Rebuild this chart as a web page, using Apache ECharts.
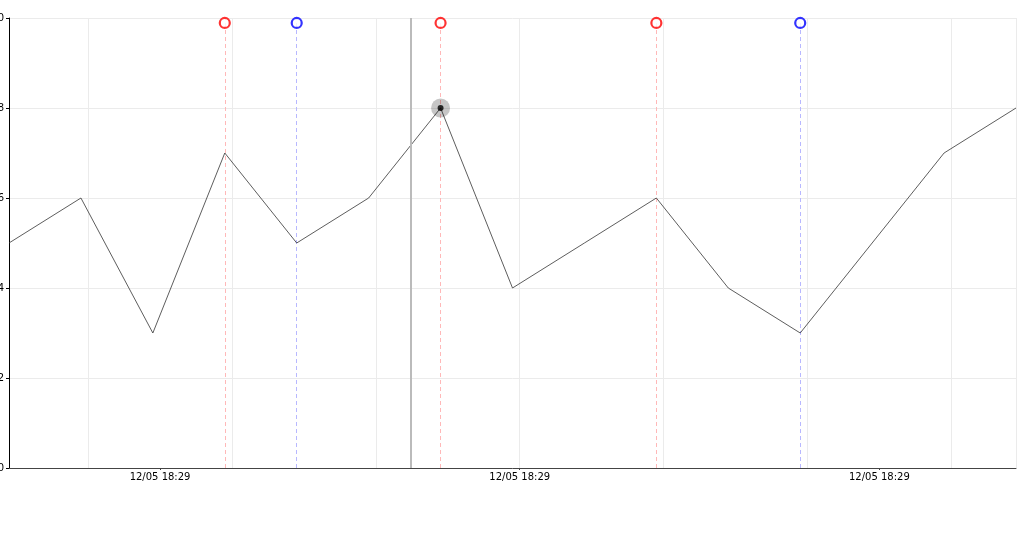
<!DOCTYPE html>
<html>
<head>
<meta charset="utf-8">
<script src="https://cdn.jsdelivr.net/npm/echarts@6/dist/echarts.min.js"></script>
<style>
html,body{margin:0;padding:0;background:#fff;}
#chart{width:1031px;height:546px;}
</style>
</head>
<body>
<div id="chart"></div>
<script>
// Data
var pointIndex = [0,1,2,3,4,5,6,7,8,9,10,11,12,13,14];
var values = [5,6,3,7,5,6,8,4,5,6,4,3,5,7,8];
var xTickLabels = ['12/05 18:29','12/05 18:29','12/05 18:29'];
var yTicks = [0,2,4,6,8,10];
var redMarkers = [3,6,9];
var blueMarkers = [4,11];
var markerLevel = 9.89;
var highlightIndex = 6;
var cursorX = 5.58;

var lineData = pointIndex.map(function(x,i){return [x, values[i]];});
var redData = redMarkers.map(function(x){return [x, markerLevel];});
var blueData = blueMarkers.map(function(x){return [x, markerLevel];});
var hl = [[pointIndex[highlightIndex], values[highlightIndex]]];

var chart = echarts.init(document.getElementById('chart'), null, {renderer:'canvas'});
var font = 'DejaVu Sans';
chart.setOption({
  animation:false,
  backgroundColor:'#fff',
  grid:{left:9,right:15,top:18,bottom:78,containLabel:false,outerBoundsMode:'none'},
  xAxis:[
    {type:'value',min:0,max:14,
     axisLine:{show:true,lineStyle:{color:'#444',width:1}},
     axisTick:{show:false},axisLabel:{show:false},splitLine:{show:false}},
    {type:'value',min:-2.1,max:11.9,splitNumber:3,position:'bottom',
     axisLine:{show:false},
     axisTick:{show:true,length:2,lineStyle:{color:'#444'}},
     axisLabel:{show:true,showMinLabel:false,showMaxLabel:false,margin:4,
       color:'#000',fontFamily:font,fontSize:10,
       formatter:function(v){var k=Math.round(v/5);return (Math.abs(v-k*5)<1e-6 && xTickLabels[k]!==undefined)?xTickLabels[k]:'';}},
     splitLine:{show:false}},
    {type:'value',min:0.9,max:14.9,splitNumber:7,position:'bottom',
     axisLine:{show:false},axisTick:{show:false},axisLabel:{show:false},
     splitLine:{show:true,lineStyle:{color:'#ebebeb',width:1}}}
  ],
  yAxis:{type:'value',min:yTicks[0],max:yTicks[yTicks.length-1],interval:2,
    axisLine:{show:true,lineStyle:{color:'#000',width:1}},
    axisTick:{show:true,length:3,lineStyle:{color:'#000'}},
    axisLabel:{margin:5,color:'#000',fontFamily:font,fontSize:10},
    splitLine:{show:true,lineStyle:{color:'#ebebeb',width:1}}},
  series:[
    {type:'line',name:'value',data:lineData,xAxisIndex:0,showSymbol:false,symbol:'none',
     lineStyle:{color:'#333',width:0.8},z:3,
     markLine:{silent:true,symbol:'none',label:{show:false},
       lineStyle:{color:'#bbbbbb',width:2,type:'solid'},
       data:[{xAxis:cursorX}]}},
    {type:'scatter',name:'red',data:redData,xAxisIndex:0,symbol:'circle',symbolSize:10,
     itemStyle:{color:'#fff',borderColor:'#ff0000',borderWidth:2.2},z:6,
     markLine:{silent:true,symbol:'none',label:{show:false},z:2,
       lineStyle:{color:'#ffb8b8',width:1,type:[4,3]},
       data:redMarkers.map(function(x){return {xAxis:x};})}},
    {type:'scatter',name:'blue',data:blueData,xAxisIndex:0,symbol:'circle',symbolSize:10,
     itemStyle:{color:'#fff',borderColor:'#0000ff',borderWidth:2.2},z:6,
     markLine:{silent:true,symbol:'none',label:{show:false},z:2,
       lineStyle:{color:'#b8b8ff',width:1,type:[4,3]},
       data:blueMarkers.map(function(x){return {xAxis:x};})}},
    {type:'scatter',name:'halo',data:hl,xAxisIndex:0,symbolSize:19,
     itemStyle:{color:'rgba(0,0,0,0.28)'},z:7},
    {type:'scatter',name:'dot',data:hl,xAxisIndex:0,symbolSize:6,
     itemStyle:{color:'#000'},z:8}
  ]
});
</script>
</body>
</html>
